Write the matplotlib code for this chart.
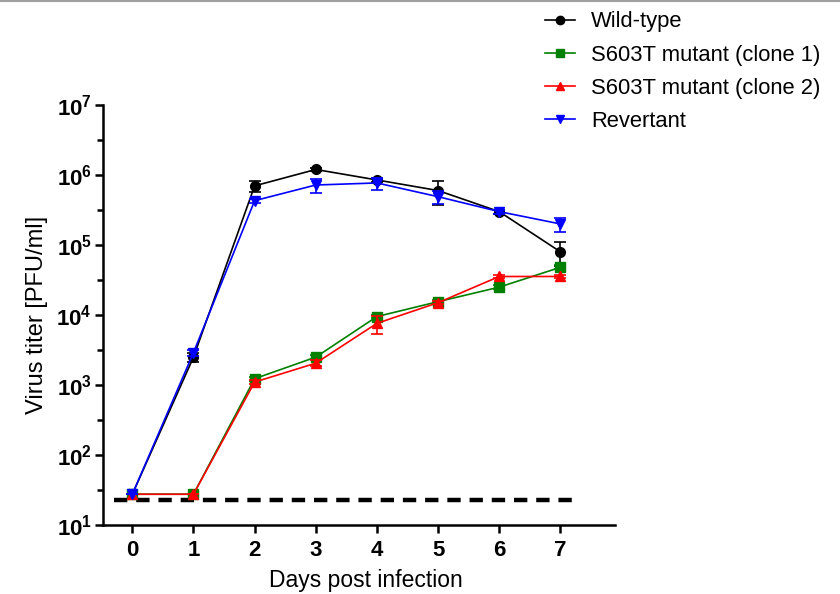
import matplotlib.pyplot as plt
import numpy as np
from matplotlib.lines import Line2D
from matplotlib.ticker import FixedLocator, NullFormatter

plt.rcParams['font.family'] = ['Liberation Sans', 'DejaVu Sans']
plt.rcParams['mathtext.fontset'] = 'custom'
plt.rcParams['mathtext.rm'] = 'Liberation Sans'
plt.rcParams['mathtext.bf'] = 'Liberation Sans:bold'

days = [0, 1, 2, 3, 4, 5, 6, 7]

# virus titers (PFU/ml)
wt = [27.5, 2500, 700000, 1200000, 850000, 600000, 300000, 80000]
wt_err = [0, 400, 120000, 60000, 50000, 230000, 20000, 30000]
clone1 = [27.5, 27.5, 1230, 2500, 9500, 15500, 25000, 48000]
clone1_err = [0, 0, 80, 150, 500, 800, 1500, 3000]
clone2 = [27.5, 27.5, 1100, 2050, 7600, 15000, 35500, 35500]
clone2_err = [0, 0, 60, 200, 2200, 700, 1500, 1500]
revertant = [27.5, 2900, 430000, 720000, 770000, 490000, 300000, 200000]
revertant_err = [0, 300, 30000, 170000, 150000, 110000, 20000, 45000]

detection_limit = 23

labels = ['Wild-type', 'S603T mutant (clone 1)', 'S603T mutant (clone 2)', 'Revertant']

fig = plt.figure(figsize=(8.4, 5.94), dpi=100)
ax = fig.add_axes([0.1226, 0.1162, 0.61, 0.707])

ax.hlines(detection_limit, -0.3, 7.3, colors='black', linestyles=(0, (3, 2)), linewidth=3.2, zorder=1)

series = [
    (wt, wt_err, 'black', 'o', 7),
    (clone1, clone1_err, 'green', 's', 6.5),
    (clone2, clone2_err, 'red', '^', 7),
    (revertant, revertant_err, 'blue', 'v', 7),
]
# draw order: mutants first, then revertant, then wild-type on top
for idx in [1, 2, 3, 0]:
    vals, err, col, mk, ms = series[idx]
    ax.errorbar(days, vals, yerr=err, color=col, marker=mk, markersize=ms,
                linewidth=1.2, elinewidth=1.2, capsize=4, capthick=1.2, zorder=3 + idx)

handles = [Line2D([], [], color=c, marker=m, markersize=6, linewidth=1.2)
           for _, _, c, m, _ in series]
fig.legend(handles, labels, loc='upper left', bbox_to_anchor=(0.625, 1.014),
           frameon=False, fontsize=15.8, handlelength=1.36, handletextpad=0.75,
           labelspacing=0.55)

ax.set_yscale('log')
ax.set_ylim(10, 1e7)
ax.set_xlim(-0.48, 7.9)
ax.set_xticks(days)
ax.set_yticks([10 ** k for k in range(1, 8)])
ax.set_yticklabels(['$\\mathbf{10^{%d}}$' % k for k in range(1, 8)])
ax.yaxis.set_minor_locator(FixedLocator([10 ** (k + 0.5) for k in range(1, 7)]))
ax.yaxis.set_minor_formatter(NullFormatter())

for s in ['top', 'right']:
    ax.spines[s].set_visible(False)
for s in ['left', 'bottom']:
    ax.spines[s].set_linewidth(1.8)

ax.tick_params(axis='both', which='major', length=6, width=1.8, labelsize=16)
ax.tick_params(axis='y', which='minor', length=4, width=1.8)
ax.tick_params(axis='y', which='major', pad=2)
ax.tick_params(axis='x', which='major', pad=5)
for lab in ax.get_xticklabels():
    lab.set_fontweight('bold')

ax.set_xlabel('Days post infection', fontsize=16.5, labelpad=5)
ax.xaxis.set_label_coords(0.513, -0.105)
ax.set_ylabel('Virus titer [PFU/ml]', fontsize=17, labelpad=6)

# thin grey rule along the top edge
fig.add_artist(Line2D([0, 1], [0.999, 0.999], transform=fig.transFigure, color='#a0a0a0', linewidth=1.5))

fig.savefig('out.png', dpi=100)
